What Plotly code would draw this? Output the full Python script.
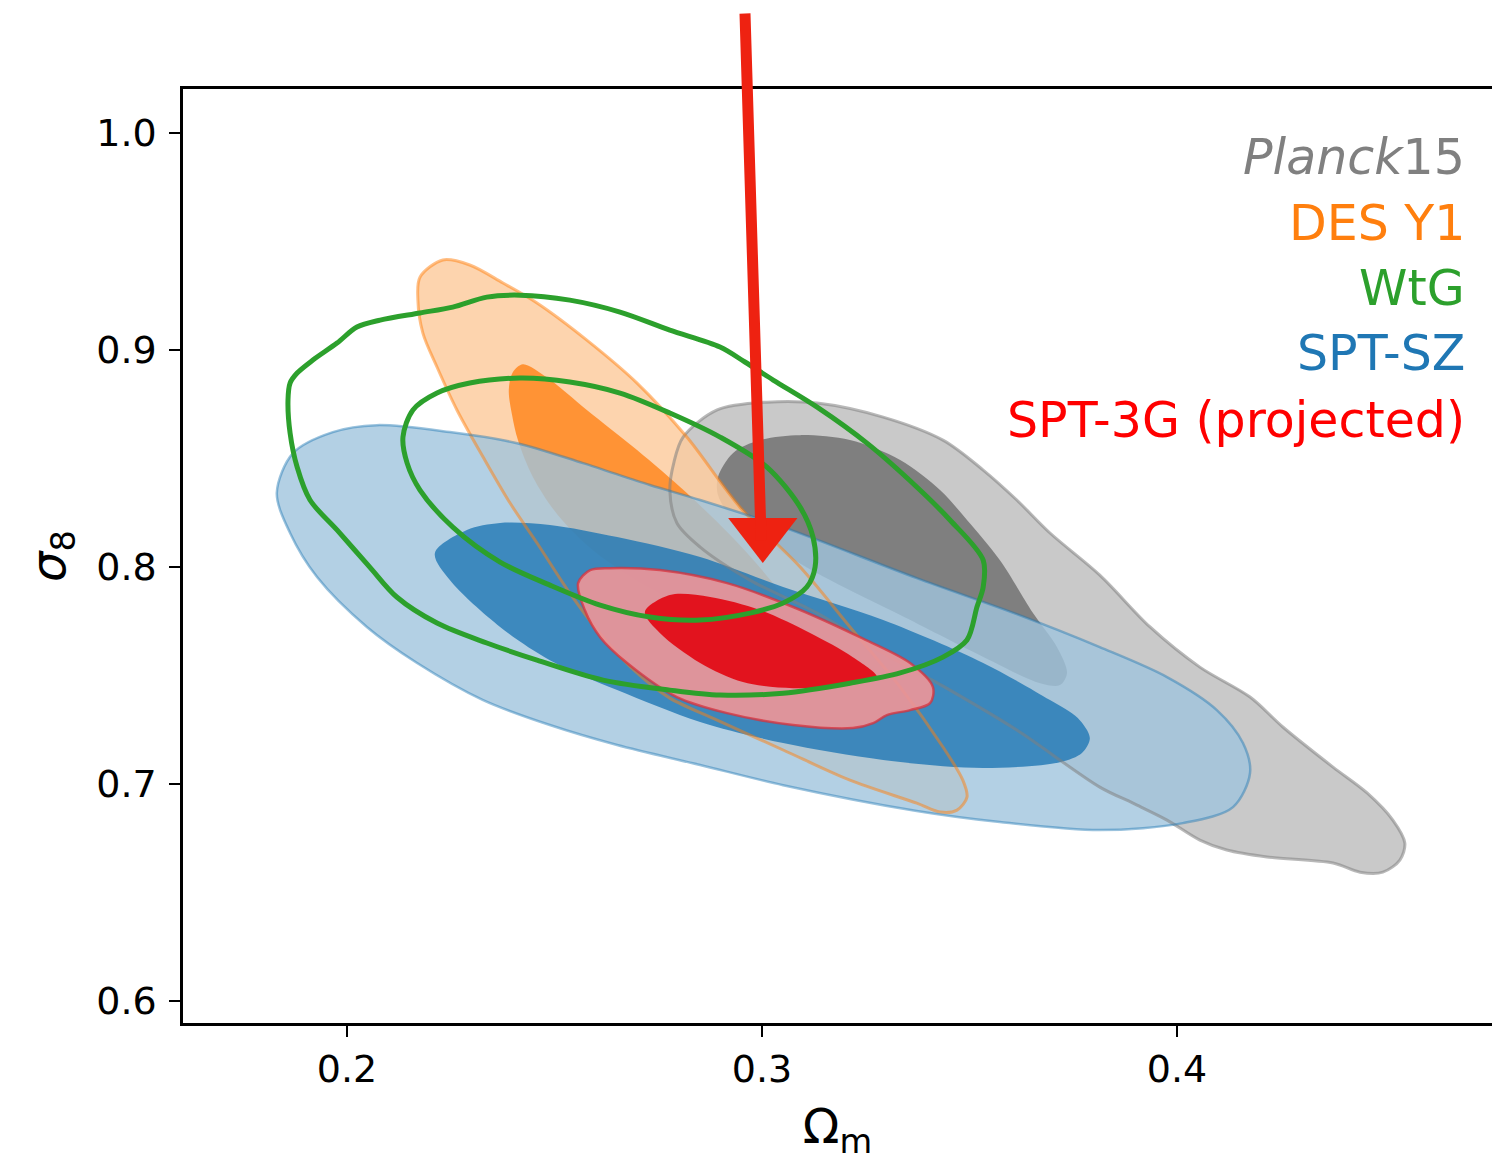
import plotly.graph_objects as go

# ---------------- data (Omega_m, sigma_8) contour vertices ----------------
planck_outer_om = [0.2778, 0.2788, 0.2810, 0.2892, 0.3012, 0.3133, 0.3292, 0.3436, 0.3533, 0.3614,
                   0.3694, 0.3814, 0.3935, 0.4055, 0.4176, 0.4255, 0.4376, 0.4458, 0.4520,
                   0.4549, 0.4537, 0.4496, 0.4441, 0.4376, 0.4217, 0.4120, 0.4055, 0.3976, 0.3894,
                   0.3814, 0.3614, 0.3453, 0.3292, 0.3133, 0.2971, 0.2851, 0.2795]
planck_outer_s8 = [0.8355, 0.8484, 0.8599, 0.8724, 0.8760, 0.8756, 0.8691, 0.8585, 0.8447, 0.8309,
                   0.8157, 0.7963, 0.7724, 0.7539, 0.7401, 0.7263, 0.7078, 0.6959, 0.6834,
                   0.6728, 0.6650, 0.6594, 0.6594, 0.6636, 0.6664, 0.6696, 0.6742, 0.6834, 0.6912,
                   0.6986, 0.7249, 0.7433, 0.7604, 0.7788, 0.7940, 0.8092, 0.8203]

planck_inner_om = [0.2894, 0.2930, 0.2995, 0.3092, 0.3212, 0.3333, 0.3429, 0.3494, 0.3573, 0.3653,
                   0.3711, 0.3735, 0.3718, 0.3670, 0.3525, 0.3333, 0.3164, 0.3019, 0.2923, 0.2894]
planck_inner_s8 = [0.8415, 0.8525, 0.8585, 0.8608, 0.8585, 0.8493, 0.8355, 0.8217, 0.8032, 0.7788,
                   0.7631, 0.7512, 0.7456, 0.7465, 0.7594, 0.7779, 0.7940, 0.8101, 0.8240, 0.8332]

des_outer_om = [0.2231, 0.2296, 0.2376, 0.2458, 0.2578, 0.2699, 0.2819, 0.2947, 0.3092, 0.3212,
                0.3333, 0.3436, 0.3484, 0.3494, 0.3470, 0.3429, 0.3373, 0.3212, 0.3051, 0.2892,
                0.2778, 0.2699, 0.2617, 0.2537, 0.2458, 0.2393, 0.2328, 0.2265, 0.2217, 0.2183,
                0.2171, 0.2176]
des_outer_s8 = [0.9415, 0.9392, 0.9309, 0.9217, 0.9046, 0.8848, 0.8599, 0.8276, 0.8000, 0.7724,
                0.7447, 0.7171, 0.7018, 0.6940, 0.6880, 0.6871, 0.6912, 0.7018, 0.7157, 0.7295,
                0.7396, 0.7512, 0.7677, 0.7880, 0.8111, 0.8295, 0.8507, 0.8724, 0.8922, 0.9078,
                0.9230, 0.9336]

des_inner_om = [0.2424, 0.2484, 0.2578, 0.2699, 0.2819, 0.2947, 0.3043, 0.3099, 0.3111, 0.3092,
                0.3063, 0.2983, 0.2851, 0.2718, 0.2598, 0.2508, 0.2448, 0.2412, 0.2398, 0.2390,
                0.2400]
des_inner_s8 = [0.8935, 0.8871, 0.8724, 0.8539, 0.8341, 0.8101, 0.7885, 0.7719, 0.7627, 0.7590,
                0.7608, 0.7673, 0.7793, 0.7917, 0.8069, 0.8240, 0.8415, 0.8585, 0.8700, 0.8816,
                0.8899]

sptsz_outer_om = [0.1831, 0.1870, 0.1966, 0.2072, 0.2248, 0.2410, 0.2569, 0.2730, 0.2851, 0.3051,
                  0.3373, 0.3614, 0.3814, 0.3976, 0.4096, 0.4159, 0.4176, 0.4135, 0.4014, 0.3814,
                  0.3573, 0.3373, 0.3051, 0.2851, 0.2651, 0.2489, 0.2328, 0.2169, 0.2048, 0.1928,
                  0.1863]
sptsz_outer_s8 = [0.8341, 0.8525, 0.8622, 0.8654, 0.8622, 0.8571, 0.8479, 0.8378, 0.8309, 0.8184,
                  0.7949, 0.7783, 0.7631, 0.7493, 0.7341, 0.7189, 0.7051, 0.6894, 0.6820, 0.6788,
                  0.6825, 0.6876, 0.6995, 0.7088, 0.7180, 0.7272, 0.7387, 0.7558, 0.7724, 0.7954,
                  0.8157]

sptsz_inner_om = [0.2212, 0.2289, 0.2369, 0.2489, 0.2651, 0.2851, 0.3051, 0.3292, 0.3533, 0.3694,
                  0.3761, 0.3790, 0.3771, 0.3718, 0.3533, 0.3292, 0.3051, 0.2851, 0.2651, 0.2489,
                  0.2369, 0.2248]
sptsz_inner_s8 = [0.8065, 0.8171, 0.8203, 0.8194, 0.8138, 0.8046, 0.7908, 0.7756, 0.7558, 0.7387,
                  0.7304, 0.7212, 0.7143, 0.7101, 0.7074, 0.7111, 0.7189, 0.7286, 0.7433, 0.7571,
                  0.7724, 0.7940]

spt3g_outer_om = [0.2557, 0.2586, 0.2634, 0.2754, 0.2916, 0.3075, 0.3236, 0.3357, 0.3412, 0.3405,
                  0.3357, 0.3301, 0.3268, 0.3219, 0.3075, 0.2916, 0.2795, 0.2675, 0.2610, 0.2573]
spt3g_outer_s8 = [0.7926, 0.7986, 0.7995, 0.7986, 0.7926, 0.7816, 0.7677, 0.7558, 0.7447, 0.7373,
                  0.7341, 0.7318, 0.7281, 0.7258, 0.7272, 0.7327, 0.7401, 0.7558, 0.7677, 0.7802]

spt3g_inner_om = [0.2718, 0.2778, 0.2875, 0.2995, 0.3116, 0.3219, 0.3277, 0.3195, 0.3075, 0.2954,
                  0.2851, 0.2754]
spt3g_inner_s8 = [0.7793, 0.7871, 0.7862, 0.7802, 0.7696, 0.7585, 0.7493, 0.7456, 0.7442, 0.7470,
                  0.7558, 0.7696]

wtg_outer_om = [0.1858, 0.1863, 0.1880, 0.1918, 0.1976, 0.2024, 0.2080, 0.2176, 0.2255, 0.2337,
                0.2417, 0.2537, 0.2658, 0.2778, 0.2899, 0.2959, 0.3027, 0.3133, 0.3253, 0.3373,
                0.3453, 0.3533, 0.3533, 0.3518, 0.3494, 0.3436, 0.3333, 0.3212, 0.3051, 0.2899,
                0.2778, 0.2617, 0.2458, 0.2337, 0.2217, 0.2120, 0.2055, 0.1976, 0.1911, 0.1880,
                0.1863]
wtg_outer_s8 = [0.8770, 0.8848, 0.8894, 0.8954, 0.9032, 0.9106, 0.9138, 0.9171, 0.9198, 0.9244,
                0.9253, 0.9230, 0.9175, 0.9092, 0.9014, 0.8945, 0.8862, 0.8737, 0.8571, 0.8369,
                0.8217, 0.8032, 0.7908, 0.7816, 0.7664, 0.7585, 0.7512, 0.7465, 0.7419, 0.7410,
                0.7433, 0.7479, 0.7571, 0.7650, 0.7742, 0.7862, 0.8000, 0.8171, 0.8309, 0.8461,
                0.8618]

wtg_inner_om = [0.2135, 0.2159, 0.2217, 0.2296, 0.2417, 0.2537, 0.2658, 0.2778, 0.2899, 0.3012,
                0.3092, 0.3123, 0.3128, 0.3108, 0.3051, 0.2971, 0.2851, 0.2730, 0.2610, 0.2489,
                0.2369, 0.2255, 0.2176, 0.2145]
wtg_inner_s8 = [0.8599, 0.8724, 0.8802, 0.8848, 0.8871, 0.8853, 0.8802, 0.8710, 0.8599, 0.8461,
                0.8276, 0.8138, 0.8000, 0.7908, 0.7834, 0.7788, 0.7756, 0.7770, 0.7825, 0.7917,
                0.8023, 0.8184, 0.8355, 0.8479]

# hand-drawn arrow: shaft tail/end and head position (data units)
arrow_tail = (0.2959, 1.0558)
arrow_shaft_end = (0.2998, 0.8124)
arrow_head = (0.3002, 0.8157)

labels = ["<i>Planck</i>15", "DES Y1", "WtG", "SPT-SZ", "SPT-3G (projected)"]
label_colors = ["#808080", "#ff7f0e", "#2ca02c", "#1f77b4", "#ff0000"]
label_s8 = [0.9889, 0.9581, 0.9286, 0.8982, 0.8677]
label_om = 0.4697

x_ticks = [0.2, 0.3, 0.4]
x_ticktext = ["0.2", "0.3", "0.4"]
y_ticks = [0.6, 0.7, 0.8, 0.9, 1.0]
y_ticktext = ["0.6", "0.7", "0.8", "0.9", "1.0"]
x_range = [0.1605, 0.4759]
y_range = [0.5899, 1.0203]

ARROW_RED = "#ee2211"

# ---------------- figure ----------------
fig = go.Figure()


def closed(a):
    return list(a) + [a[0]]


def add_shape(om, s8, fillcolor=None, line_color="rgba(0,0,0,0)", line_width=0.0):
    kw = dict(x=closed(om), y=closed(s8), mode="lines",
              line=dict(color=line_color, width=line_width, shape="spline", smoothing=0.9),
              hoverinfo="skip", showlegend=False)
    if fillcolor is not None:
        kw.update(fill="toself", fillcolor=fillcolor)
    fig.add_trace(go.Scatter(**kw))


# Planck
add_shape(planck_outer_om, planck_outer_s8, fillcolor="#c9c9c9")
add_shape(planck_inner_om, planck_inner_s8, fillcolor="#7f7f7f")
# DES
add_shape(des_outer_om, des_outer_s8, fillcolor="rgba(253,205,160,0.85)")
add_shape(des_inner_om, des_inner_s8, fillcolor="rgba(255,140,40,0.9)")
# SPT-SZ
add_shape(sptsz_outer_om, sptsz_outer_s8, fillcolor="rgba(160,196,221,0.8)")
add_shape(sptsz_inner_om, sptsz_inner_s8, fillcolor="rgba(31,119,180,0.8)")
# outlines
add_shape(planck_outer_om, planck_outer_s8, line_color="rgba(128,128,128,0.55)", line_width=3)
add_shape(des_outer_om, des_outer_s8, line_color="rgba(255,127,14,0.5)", line_width=3)
add_shape(sptsz_outer_om, sptsz_outer_s8, line_color="rgba(31,119,180,0.45)", line_width=2.5)
# SPT-3G
add_shape(spt3g_outer_om, spt3g_outer_s8, fillcolor="rgba(235,148,153,0.93)",
          line_color="rgba(215,50,60,0.75)", line_width=2.5)
add_shape(spt3g_inner_om, spt3g_inner_s8, fillcolor="rgba(226,10,20,0.93)")
# WtG
add_shape(wtg_outer_om, wtg_outer_s8, line_color="#2ca02c", line_width=5)
add_shape(wtg_inner_om, wtg_inner_s8, line_color="#2ca02c", line_width=5)

# arrow head
fig.add_trace(go.Scatter(x=[arrow_head[0]], y=[arrow_head[1]], mode="markers",
                         marker=dict(symbol="triangle-down", size=60, color=ARROW_RED,
                                     line=dict(width=0)),
                         hoverinfo="skip", showlegend=False))

annotations = []
for txt, col, yv in zip(labels, label_colors, label_s8):
    annotations.append(dict(x=label_om, y=yv, xref="x", yref="y", text=txt, showarrow=False,
                            xanchor="right", yanchor="middle", borderpad=0,
                            font=dict(family="DejaVu Sans", size=49, color=col)))
annotations.append(dict(x=arrow_shaft_end[0], y=arrow_shaft_end[1], ax=arrow_tail[0], ay=arrow_tail[1],
                        xref="x", yref="y", axref="x", ayref="y", text="", showarrow=True,
                        arrowhead=0, arrowwidth=11, arrowcolor=ARROW_RED, standoff=0))

fig.update_layout(
    width=1492, height=1161,
    margin=dict(l=183, r=0, t=89, b=138),
    plot_bgcolor="white", paper_bgcolor="white",
    font=dict(family="DejaVu Sans", color="black"),
    annotations=annotations,
)
fig.update_xaxes(range=x_range, tickvals=x_ticks, ticktext=x_ticktext, ticks="outside",
                 ticklen=11, tickwidth=2, tickcolor="black", showline=True, linecolor="black",
                 linewidth=2.5, mirror=True, showgrid=False, zeroline=False,
                 tickfont=dict(size=38, family="DejaVu Sans"),
                 title=dict(text="Ω<sub>m</sub>", font=dict(size=48, family="DejaVu Sans"), standoff=22))
fig.update_yaxes(range=y_range, tickvals=y_ticks, ticktext=y_ticktext, ticks="outside",
                 ticklen=11, tickwidth=2, tickcolor="black", showline=True, linecolor="black",
                 linewidth=2.5, mirror=False, showgrid=False, zeroline=False,
                 ticklabelstandoff=5,
                 tickfont=dict(size=38, family="DejaVu Sans"),
                 title=dict(text="<i>σ</i><sub>8</sub>", font=dict(size=48, family="DejaVu Sans"), standoff=16))

fig.write_html("out.html")
